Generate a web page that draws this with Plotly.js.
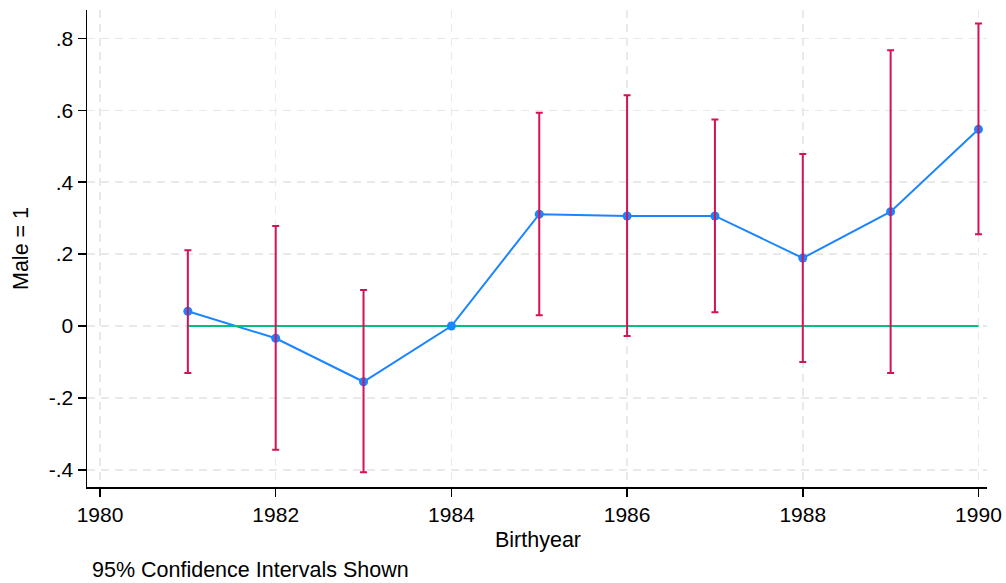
<!DOCTYPE html>
<html>
<head>
<meta charset="utf-8">
<script src="https://cdn.plot.ly/plotly-3.0.1.min.js"></script>
<style>
  html, body { margin: 0; padding: 0; background: #ffffff; }
  #chart { width: 1006px; height: 583px; }
</style>
</head>
<body>
<div id="chart"></div>
<script>
// Data
const years    = [1981, 1982, 1983, 1984, 1985, 1986, 1987, 1988, 1989, 1990];
const estimate = [0.041, -0.034, -0.155, 0.000, 0.311, 0.306, 0.306, 0.189, 0.318, 0.547];
const ciUpper  = [0.211, 0.278, 0.100, null, 0.593, 0.642, 0.574, 0.478, 0.767, 0.841];
const ciLower  = [-0.131, -0.344, -0.407, null, 0.030, -0.028, 0.038, -0.100, -0.131, 0.255];
const refLineX = [1981, 1990];
const refLineY = [0, 0];
const xTickVals = [1980, 1982, 1984, 1986, 1988, 1990];
const xTickText = ['1980', '1982', '1984', '1986', '1988', '1990'];
const yTickVals = [-0.4, -0.2, 0, 0.2, 0.4, 0.6, 0.8];
const yTickText = ['-.4', '-.2', '0', '.2', '.4', '.6', '.8'];
const xTitle = 'Birthyear';
const yTitle = 'Male = 1';
const noteText = '95% Confidence Intervals Shown';

const BLUE = '#1A85FF', RED = '#D41159', GREEN = '#00BF7F';
const FONT = 'Liberation Sans, Arial, sans-serif';

// Points that have a confidence interval
const ciIdx = years.map((_, i) => i).filter(i => ciUpper[i] !== null && ciLower[i] !== null);
const ciX = ciIdx.map(i => years[i]);
const ciY = ciIdx.map(i => estimate[i]);
const ciPlus = ciIdx.map(i => ciUpper[i] - estimate[i]);
const ciMinus = ciIdx.map(i => estimate[i] - ciLower[i]);

const traces = [
  {
    x: years, y: estimate, type: 'scatter', mode: 'lines',
    line: { color: BLUE, width: 2 }, hoverinfo: 'skip', showlegend: false
  },
  {
    x: refLineX, y: refLineY, type: 'scatter', mode: 'lines',
    line: { color: GREEN, width: 2 }, hoverinfo: 'skip', showlegend: false
  },
  {
    x: years, y: estimate, type: 'scatter', mode: 'markers',
    marker: { color: BLUE, size: 9 }, showlegend: false
  },
  {
    x: ciX, y: ciY, type: 'scatter', mode: 'markers',
    marker: { size: 0.1, opacity: 0 },
    error_y: { type: 'data', symmetric: false, array: ciPlus, arrayminus: ciMinus,
               color: RED, thickness: 2, width: 3.5 },
    hoverinfo: 'skip', showlegend: false
  }
];

const layout = {
  width: 1006, height: 583,
  margin: { l: 87, r: 19, t: 10, b: 96 },
  paper_bgcolor: '#ffffff', plot_bgcolor: '#ffffff',
  font: { family: FONT, size: 21, color: '#000000' },
  showlegend: false,
  xaxis: {
    range: [1979.852, 1990.097],
    tickmode: 'array', tickvals: xTickVals, ticktext: xTickText,
    ticks: 'outside', ticklen: 8, tickwidth: 1.5, tickcolor: '#000000',
    showline: true, linecolor: '#000000', linewidth: 1.5,
    showgrid: true, gridcolor: '#e9e9e9', gridwidth: 1.5, griddash: '8px,6px',
    zeroline: false,
    tickfont: { family: FONT, size: 21, color: '#000000' }
  },
  yaxis: {
    range: [-0.4477, 0.8788],
    tickmode: 'array', tickvals: yTickVals, ticktext: yTickText,
    ticks: 'outside', ticklen: 8, tickwidth: 1.5, tickcolor: '#000000',
    showline: true, linecolor: '#000000', linewidth: 1.5,
    showgrid: true, gridcolor: '#e9e9e9', gridwidth: 1.5, griddash: '8px,6px',
    zeroline: false,
    tickfont: { family: FONT, size: 21, color: '#000000' }
  },
  annotations: [
    { text: xTitle, xref: 'paper', yref: 'paper', x: (538 - 87) / 900, y: (487 - 539.5) / 477,
      xanchor: 'center', yanchor: 'middle', showarrow: false,
      font: { family: FONT, size: 21.5, color: '#000000' } },
    { text: yTitle, xref: 'paper', yref: 'paper', x: (20.5 - 87) / 900, y: 0.5,
      xanchor: 'center', yanchor: 'middle', textangle: -90, showarrow: false,
      font: { family: FONT, size: 21.5, color: '#000000' } },
    { text: noteText, xref: 'paper', yref: 'paper', x: (90 - 87) / 900, y: (487 - 569.5) / 477,
      xanchor: 'left', yanchor: 'middle', showarrow: false,
      font: { family: FONT, size: 21.5, color: '#000000' } }
  ]
};

Plotly.newPlot('chart', traces, layout, { staticPlot: true, displayModeBar: false });
</script>
</body>
</html>
